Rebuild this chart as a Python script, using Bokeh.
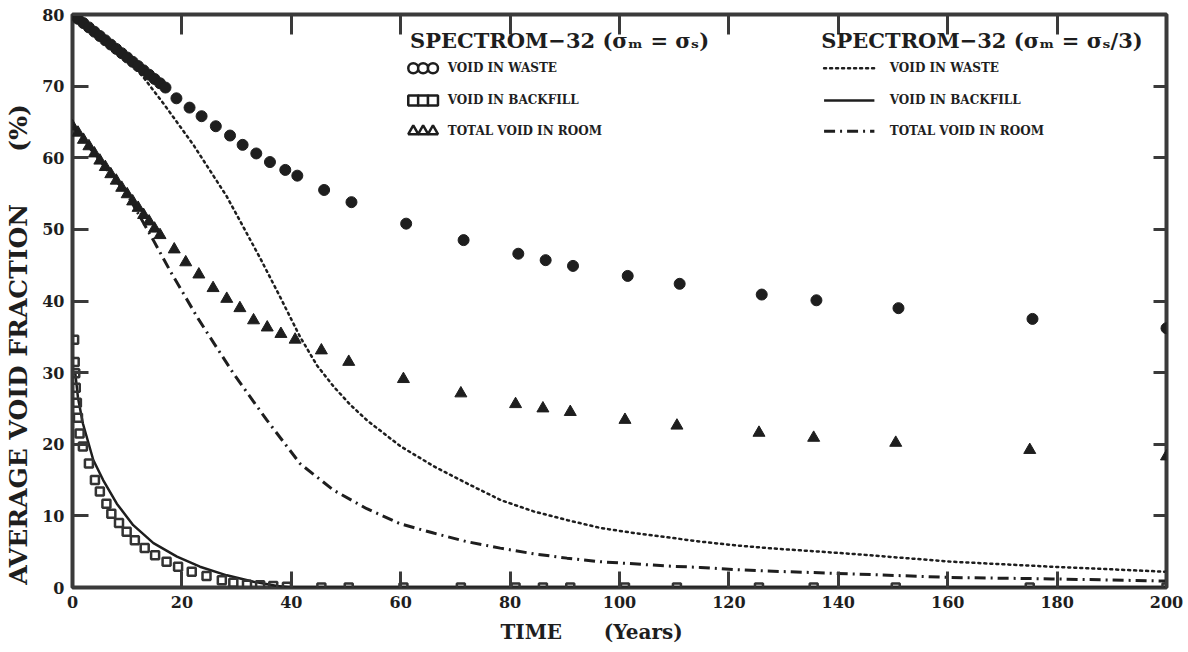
from bokeh.plotting import figure
from bokeh.models import Range1d, LinearAxis, FixedTicker, Label, CustomJSTickFormatter
from bokeh.embed import file_html
from bokeh.resources import INLINE

# ---- SPECTROM-32, sigma_m = sigma_s (markers) ----
waste_t = [0, 1, 2, 3, 4, 5, 6, 7, 8, 9, 10, 11, 12, 13, 14, 15, 16, 17,
           19, 21.4, 23.6, 26.2, 28.8, 31.1, 33.6, 36.1, 38.9, 41.1,
           46, 51, 61, 71.5, 81.5, 86.5, 91.5, 101.5, 111, 126, 136, 151, 175.5, 200]
waste_v = [80.0, 79.4, 78.8, 78.2, 77.6, 77.0, 76.4, 75.8, 75.2, 74.6, 74.0, 73.4, 72.8, 72.2, 71.6, 71.0, 70.4, 69.8,
           68.3, 67.0, 65.8, 64.4, 63.1, 61.8, 60.6, 59.4, 58.3, 57.5,
           55.5, 53.8, 50.8, 48.5, 46.6, 45.7, 44.9, 43.5, 42.4, 40.9, 40.1, 39.0, 37.5, 36.2]

room_t = [0, 1, 2, 3, 4, 5, 6, 7, 8, 9, 10, 11, 12, 13, 14, 15, 16,
          18.6, 20.7, 23.1, 25.7, 28.2, 30.6, 33.1, 35.6, 38.1, 40.7,
          45.5, 50.5, 60.5, 71, 81, 86, 91, 101, 110.5, 125.5, 135.5, 150.5, 175, 200]
room_v = [64.4, 63.5, 62.5, 61.6, 60.6, 59.6, 58.7, 57.7, 56.8, 55.8, 54.9, 53.9, 53.0, 52.0, 51.1, 50.1, 49.2,
          47.2, 45.4, 43.7, 41.8, 40.3, 39.0, 37.3, 36.3, 35.4, 34.6,
          33.1, 31.5, 29.1, 27.1, 25.6, 25.0, 24.5, 23.4, 22.6, 21.6, 20.9, 20.2, 19.2, 18.3]

backfill_t = [0.3, 0.4, 0.5, 0.6, 0.8, 1.0, 1.3, 1.9, 3.0, 4.1, 5.0, 6.2, 7.1, 8.5, 9.9, 11.4, 13.2, 15.1,
              17.2, 19.3, 21.8, 24.5, 27.3, 29.4, 31.9, 34.3, 36.7, 39.2,
              45.5, 50.5, 60.5, 71, 81, 86, 91, 101, 110.5, 125.5, 135.5, 150.5, 175, 200]
backfill_v = [34.6, 31.5, 29.9, 27.9, 25.8, 23.7, 21.5, 19.7, 17.3, 15.0, 13.4, 11.7, 10.3, 9.0, 7.8, 6.6, 5.5, 4.5,
              3.6, 2.9, 2.2, 1.6, 1.0, 0.65, 0.4, 0.3, 0.2, 0.1,
              0, 0, 0, 0, 0, 0, 0, 0, 0, 0, 0, 0, 0, 0]

# ---- SPECTROM-32, sigma_m = sigma_s / 3 (curves) ----
waste3_t = [0, 5, 10, 13, 16.7, 22.1, 28.2, 34.3, 38, 41.6, 44.7, 47.8, 50.8, 53.9, 60, 66.1, 72.2, 78.3,
            84.4, 90.5, 96.6, 102.7, 108.8, 114.9, 121, 127.1, 142.4, 160.7, 179, 200]
waste3_v = [80.0, 77.0, 73.8, 71.2, 67.5, 61.8, 54.6, 46.0, 40.5, 35.0, 31.0, 28.0, 25.5, 23.3, 19.7, 16.9, 14.5, 12.2,
            10.6, 9.4, 8.3, 7.6, 7.0, 6.4, 5.9, 5.5, 4.7, 3.6, 2.9, 2.2]

room3_t = [0, 5, 10, 14.7, 18, 23, 29.4, 35.5, 41.6, 47.7, 53.8, 59.9, 66, 72.1, 78.2, 84.3, 90.4, 96.5,
           102.6, 108.7, 114.8, 120.9, 127, 142.4, 160.7, 179, 200]
room3_v = [64.4, 59.6, 54.9, 48.6, 44.0, 37.5, 29.9, 23.4, 17.3, 13.6, 11.0, 8.9, 7.6, 6.4, 5.5, 4.7, 4.1, 3.6,
           3.3, 3.0, 2.8, 2.5, 2.3, 1.9, 1.4, 1.2, 0.9]

backfill3_t = [0.5, 1.0, 1.9, 3.8, 5.6, 8.1, 11.1, 14.8, 19.1, 23.3, 28.2, 33.1, 37.4, 40.0, 200]
backfill3_v = [30.0, 26.5, 22.9, 17.8, 15.0, 11.7, 8.7, 6.2, 4.3, 2.9, 1.7, 0.8, 0.2, 0.0, 0.0]

x_ticks = [0, 20, 40, 60, 80, 100, 120, 140, 160, 180, 200]
y_ticks = [0, 10, 20, 30, 40, 50, 60, 70, 80]

title_left = "SPECTROM\u221232 (\u03c3\u2098 = \u03c3\u209b)"
title_right = "SPECTROM\u221232 (\u03c3\u2098 = \u03c3\u209b/3)"
row_labels = ["VOID IN WASTE", "VOID IN BACKFILL", "TOTAL VOID IN ROOM"]
nbsp = "\u00a0"
# trailing no-break spaces offset the centred axis titles
x_title = "TIME" + nbsp * 6 + "(Years)" + nbsp * 8
y_title = "AVERAGE VOID FRACTION" + nbsp * 6 + "(%)" + nbsp * 10

INK = "#1e1e1e"
FRAME = "#3a3a3a"
SERIF = "DejaVu Serif"

p = figure(width=1188, height=652, x_range=Range1d(0, 200), y_range=Range1d(0, 80),
           output_backend="svg", toolbar_location=None,
           min_border_left=72, min_border_right=22, min_border_top=14, min_border_bottom=65,
           background_fill_color="white", border_fill_color="white")
p.grid.visible = False
p.outline_line_color = FRAME
p.outline_line_width = 4

for ax, ticks in ((p.xaxis[0], x_ticks), (p.yaxis[0], y_ticks)):
    ax.ticker = FixedTicker(ticks=ticks)
    ax.axis_line_color = None
    ax.major_tick_in = 16
    ax.major_tick_out = 0
    ax.major_tick_line_width = 3
    ax.major_tick_line_color = FRAME
    ax.minor_tick_line_color = None
    ax.major_label_text_font = SERIF
    ax.major_label_text_font_style = "bold"
    ax.major_label_text_font_size = "16px"
    ax.major_label_text_color = INK
    ax.axis_label_text_font = SERIF
    ax.axis_label_text_font_style = "bold"
    ax.axis_label_text_color = INK
p.xaxis.major_label_standoff = 8
p.yaxis.major_label_standoff = 8
p.xaxis.axis_label = x_title
p.xaxis.axis_label_text_font_size = "20px"
p.xaxis.axis_label_standoff = 9
p.yaxis.axis_label = y_title
p.yaxis.axis_label_text_font_size = "25px"
p.yaxis.axis_label_standoff = 6

blank = CustomJSTickFormatter(code="return ''")
top_ax = LinearAxis(ticker=FixedTicker(ticks=x_ticks[1:-1]), formatter=blank,
                    axis_line_color=None, major_tick_in=20, major_tick_out=0,
                    major_tick_line_width=3, major_tick_line_color=FRAME,
                    minor_tick_line_color=None, major_label_standoff=0)
right_ax = LinearAxis(ticker=FixedTicker(ticks=y_ticks[1:-1]), formatter=blank,
                      axis_line_color=None, major_tick_in=13, major_tick_out=0,
                      major_tick_line_width=3, major_tick_line_color=FRAME,
                      minor_tick_line_color=None, major_label_standoff=0)
p.add_layout(top_ax, "above")
p.add_layout(right_ax, "right")

# sigma_m = sigma_s / 3 curves
p.line(waste3_t, waste3_v, line_color=INK, line_width=2.5, line_dash="2 4", line_cap="round")
p.line(room3_t, room3_v, line_color=INK, line_width=3, line_dash="11 5 2 5")
p.line(backfill3_t, backfill3_v, line_color=INK, line_width=2.5)

# sigma_m = sigma_s markers
p.scatter(backfill_t, backfill_v, marker="square", size=8, fill_color=None,
          line_color="#333333", line_width=2.5)
p.scatter(waste_t, waste_v, marker="circle", size=11, fill_color=INK, line_color=INK)
p.scatter(room_t, room_v, marker="triangle", size=12, fill_color=INK, line_color=INK)


def label(x, y, text, size, align="left"):
    p.add_layout(Label(x=x, y=y, text=text, text_font=SERIF, text_font_style="bold",
                       text_font_size=size, text_color=INK, text_align=align,
                       text_baseline="middle"))


# key
row_y = [72.5, 68.0, 63.7]
label(61.7, 76.4, title_left, "21px")
label(136.9, 76.4, title_right, "21px")
for m, ry in zip(["circle", "square", "triangle"], row_y):
    p.scatter([62.3, 64.1, 65.9], [ry] * 3, marker=m, size=10, fill_color="white",
              line_color=INK, line_width=2.5)
for txt, ry in zip(row_labels, row_y):
    label(68.6, ry, txt, "12px")
    label(149.4, ry, txt, "12px")

p.line([137.4, 146.6], [row_y[0]] * 2, line_color=INK, line_width=2.5, line_dash="2 4", line_cap="round")
p.line([137.4, 146.6], [row_y[1]] * 2, line_color=INK, line_width=2.5)
p.line([137.4, 146.6], [row_y[2]] * 2, line_color=INK, line_width=3, line_dash="11 5 2 5")

open("out.html", "w").write(file_html(p, INLINE))
